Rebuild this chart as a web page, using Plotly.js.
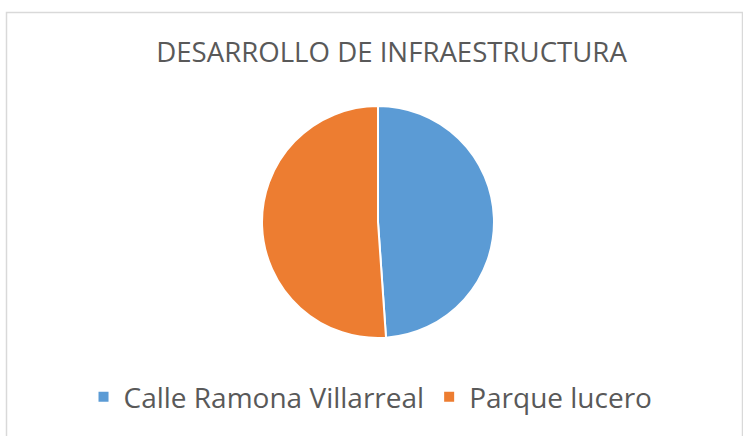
<!DOCTYPE html>
<html><head><meta charset="utf-8">
<script src="https://cdn.plot.ly/plotly-3.0.1.min.js"></script>
<style>html,body{margin:0;padding:0;background:#fff}#chart{width:743px;height:436px}</style>
</head><body><div id="chart"></div>
<script>
const categories = ["Calle Ramona Villarreal", "Parque lucero"];
const values = [48.9, 51.1];
const colors = ["#5b9bd5", "#ed7d31"];
const chartTitle = "DESARROLLO DE INFRAESTRUCTURA";

const data = [{
  type: "pie",
  labels: categories,
  values: values,
  sort: false,
  direction: "clockwise",
  rotation: 0,
  textinfo: "none",
  hoverinfo: "label+percent",
  marker: {colors: colors, line: {color: "#ffffff", width: 2}},
  domain: {x: [0.3526, 0.6649], y: [0.2248, 0.7569]}
}];

const layout = {
  width: 743, height: 436,
  margin: {l: 0, r: 0, t: 0, b: 0},
  paper_bgcolor: "#ffffff",
  font: {family: "Open Sans, sans-serif", color: "#595959"},
  title: {text: chartTitle, x: 0.527, xanchor: "center", y: 0.881, yanchor: "middle",
          font: {family: "Open Sans, sans-serif", size: 27.6, color: "#595959"}},
  showlegend: true,
  legend: {orientation: "h", x: 0.1124, xanchor: "left", y: 1 - 397/436, yanchor: "middle",
           font: {size: 28, color: "#595959"}, itemclick: false},
  shapes: [{type: "rect", xref: "paper", yref: "paper", x0: 6.5/743, x1: 742.5/743, y0: -0.05, y1: 1 - 12.5/436,
            line: {color: "#d9d9d9", width: 1.5}, fillcolor: "rgba(0,0,0,0)"}]
};

Plotly.newPlot("chart", data, layout, {displayModeBar: false, staticPlot: true});
</script></body></html>
